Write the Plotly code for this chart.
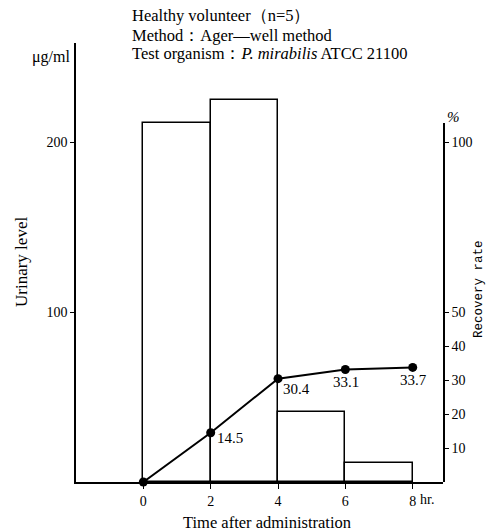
import plotly.graph_objects as go

# Data
time_points = [0, 2, 4, 6, 8]
urinary_level = [211, 225, 41, 11]        # µg/ml per interval 0-2,2-4,4-6,6-8
recovery_rate = [0, 14.5, 30.4, 33.1, 33.7]  # cumulative %
recovery_labels = ["", "14.5", "30.4", "33.1", "33.7"]
x_tick_vals = [0, 2, 4, 6, 8]
x_tick_text = ["0", "2", "4", "6", "8"]
left_ticks = [100, 200]
right_ticks = [10, 20, 30, 40, 50, 100]

FONT = "Liberation Serif"

bar_x = [(time_points[i] + time_points[i + 1]) / 2 for i in range(len(urinary_level))]
bar_w = [time_points[i + 1] - time_points[i] for i in range(len(urinary_level))]

fig = go.Figure()
fig.add_trace(go.Bar(
    x=bar_x, y=urinary_level, width=bar_w,
    marker=dict(color="white", line=dict(color="black", width=1.5)),
    yaxis="y", showlegend=False, hoverinfo="skip",
))
fig.add_trace(go.Scatter(
    x=time_points, y=recovery_rate, yaxis="y2", mode="lines+markers",
    line=dict(color="black", width=2), marker=dict(color="black", size=9),
    showlegend=False, cliponaxis=False,
))

# page pixels: plot area x 76..443, y 43..482
H = 439.0
y2_top_px = 123
y2_dom = (482 - y2_top_px) / H
y2_range_top = (482 - y2_top_px) / 3.4

fig.update_layout(
    width=495, height=532,
    margin=dict(l=76, r=52, t=43, b=50),
    paper_bgcolor="white", plot_bgcolor="rgba(0,0,0,0)",
    font=dict(family=FONT, size=14, color="black"),
    bargap=0,
    xaxis=dict(range=[-2, 8.9], tickvals=x_tick_vals, ticktext=x_tick_text,
               showline=True, linecolor="black", linewidth=1.5,
               ticks="outside", ticklen=5, tickcolor="black", tickwidth=1.2,
               showgrid=False, zeroline=False, fixedrange=True,
               tickfont=dict(family=FONT, size=14)),
    yaxis=dict(range=[0, H / 1.7], tickvals=left_ticks,
               showline=True, linecolor="black", linewidth=1.5,
               ticks="outside", ticklen=4, tickcolor="black", tickwidth=1.2,
               showgrid=False, zeroline=False,
               tickfont=dict(family=FONT, size=14)),
    yaxis2=dict(range=[0, y2_range_top], domain=[0, y2_dom], tickvals=right_ticks,
                side="right", anchor="x",
                showline=True, linecolor="black", linewidth=1.5,
                ticks="outside", ticklen=4, tickcolor="black", tickwidth=1.2,
                showgrid=False, zeroline=False,
                tickfont=dict(family=FONT, size=14)),
)

def py(p):
    return (482 - p) / H

def px(p):
    return (p - 76) / 367.0

ann = []
header = ["Healthy volunteer（n=5）", "Method：Ager—well method",
          "Test organism：<i>P. mirabilis</i> ATCC 21100"]
for line, yy in zip(header, [16, 35, 54]):
    ann.append(dict(xref="paper", yref="paper", x=px(131), y=py(yy), xanchor="left",
                    yanchor="middle", showarrow=False, text=line, borderpad=0,
                    font=dict(family=FONT, size=16.5)))
ann.append(dict(xref="paper", yref="paper", x=px(72), y=py(57), xanchor="right", yanchor="middle",
                showarrow=False, text="μg/ml", font=dict(family=FONT, size=16)))
ann.append(dict(xref="paper", yref="paper", x=px(21), y=py(262), xanchor="center", yanchor="middle",
                showarrow=False, text="Urinary level", textangle=-90, font=dict(family=FONT, size=17)))
ann.append(dict(xref="paper", yref="paper", x=px(453), y=py(117), xanchor="center", yanchor="middle",
                showarrow=False, text="<i>%</i>", font=dict(family=FONT, size=15)))
ann.append(dict(xref="paper", yref="paper", x=px(479), y=py(289), xanchor="center", yanchor="middle",
                showarrow=False, text="Recovery rate", textangle=-90,
                font=dict(family="Liberation Mono", size=12.5)))
ann.append(dict(xref="paper", yref="paper", x=px(427), y=py(499), xanchor="center", yanchor="middle",
                showarrow=False, text="hr.", font=dict(family=FONT, size=14)))
ann.append(dict(xref="paper", yref="paper", x=px(267), y=py(522), xanchor="center", yanchor="middle",
                showarrow=False, text="Time after administration", font=dict(family=FONT, size=16.5)))

# data labels
offsets = {1: (19, -5), 2: (18, -10), 3: (1, -13), 4: (1, -13)}
for i, lab in enumerate(recovery_labels):
    if not lab:
        continue
    dx, dy = offsets[i]
    ann.append(dict(xref="x", yref="y2", x=time_points[i], y=recovery_rate[i],
                    xshift=dx, yshift=dy, showarrow=False, text=lab,
                    font=dict(family=FONT, size=15)))

fig.update_layout(annotations=ann)
fig.write_html("out.html", config={"displayModeBar": False},
               post_script="document.body.style.margin='0';")
